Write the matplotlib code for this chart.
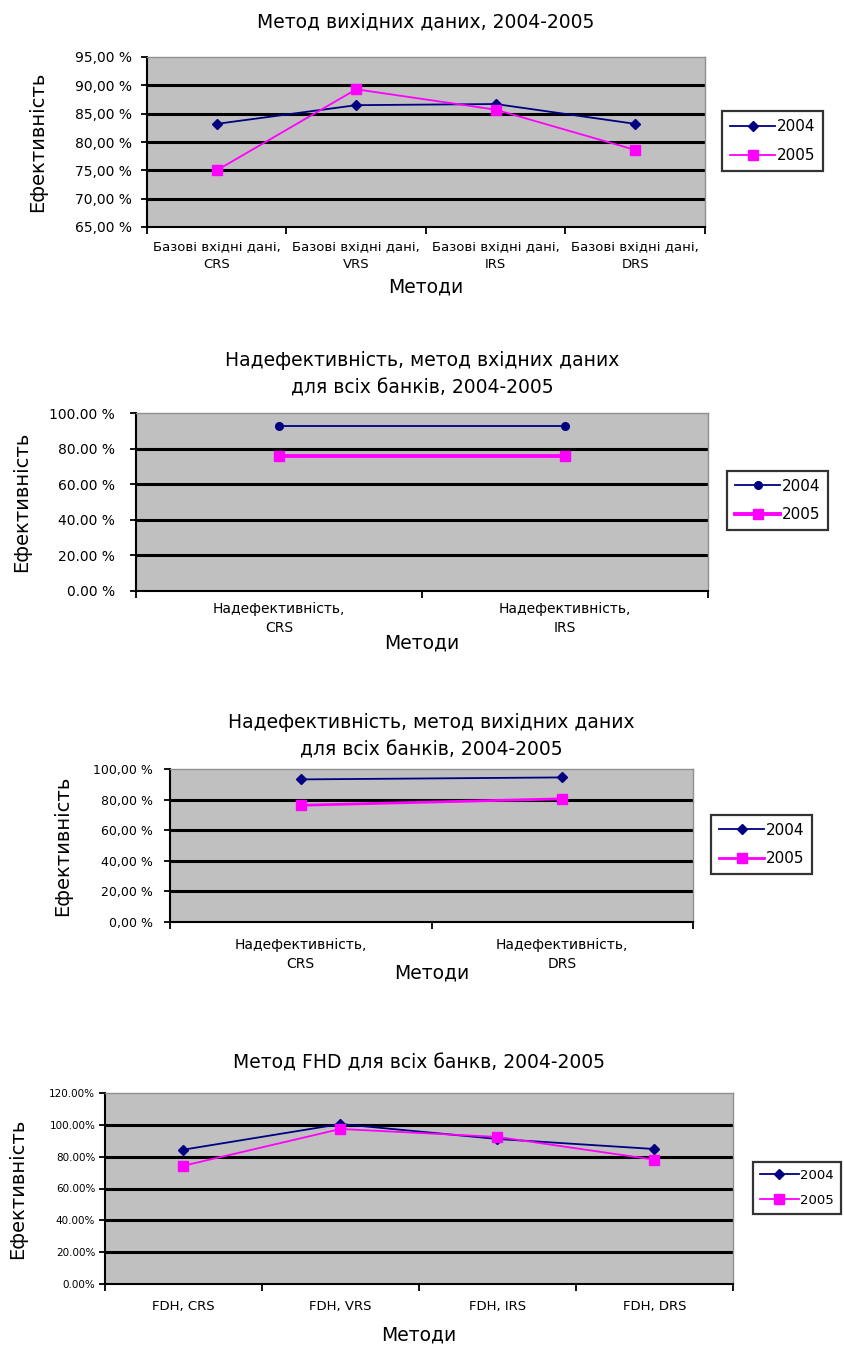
import matplotlib
matplotlib.use("Agg")
import matplotlib.pyplot as plt
from matplotlib.ticker import FuncFormatter

plt.rcParams['font.family'] = ['DejaVu Sans']

# ---- data ----
cats1 = ["Базові вхідні дані,\nCRS", "Базові вхідні дані,\nVRS", "Базові вхідні дані,\nIRS", "Базові вхідні дані,\nDRS"]
c1_2004 = [83.2, 86.5, 86.7, 83.2]
c1_2005 = [75.0, 89.3, 85.7, 78.6]

cats2 = ["Надефективність,\nCRS", "Надефективність,\nIRS"]
c2_2004 = [92.8, 92.8]
c2_2005 = [75.6, 75.6]

cats3 = ["Надефективність,\nCRS", "Надефективність,\nDRS"]
c3_2004 = [93.2, 94.5]
c3_2005 = [76.3, 80.5]

cats4 = ["FDH, CRS", "FDH, VRS", "FDH, IRS", "FDH, DRS"]
c4_2004 = [84.4, 100.5, 91.1, 84.8]
c4_2005 = [74.3, 97.4, 92.4, 78.1]

series_names = ["2004", "2005"]

W, H = 845, 1348
fig = plt.figure(figsize=(W / 100, H / 100), dpi=100)

def fx(x):
    return x / W

def fy(y):
    return 1 - y / H

def make_chart(box, cats, s04, s05, ylim, yticks, fmt, title_lines, title_y,
               xlab_y, meth_y, leg_box, ylab_x, ytick_fs=10, xtick_fs=9.5,
               title_fs=13.5, leg_fs=11, lw05=1.3, marker04='D', ypad=3):
    x0, y0, x1, y1 = box
    ax = fig.add_axes([fx(x0), fy(y1), fx(x1 - x0), (y1 - y0) / H])
    ax.set_facecolor('#C0C0C0')
    n = len(cats)
    xs = list(range(n))
    ax.set_xlim(-0.5, n - 0.5)
    ax.set_ylim(*ylim)
    ax.set_yticks(yticks)
    ax.yaxis.set_major_formatter(FuncFormatter(fmt))
    for t in yticks[1:-1]:
        ax.axhline(t, color='black', lw=2.2, zorder=1)
    l1, = ax.plot(xs, s04, color='#000080', lw=1.3, marker=marker04, ms=5.5,
                  markerfacecolor='#000080', zorder=3)
    l2, = ax.plot(xs, s05, color='#FF00FF', lw=lw05, marker='s', ms=7,
                  markerfacecolor='#FF00FF', zorder=3)
    ax.set_xticks(xs)
    ax.set_xticklabels([])
    ax.set_xticks([i + 0.5 for i in range(-1, n)], minor=True)
    ax.tick_params(axis='x', which='major', length=0)
    ax.tick_params(axis='x', which='minor', length=5, width=1.3, color='black', direction='out')
    ax.tick_params(axis='y', length=4, width=1.3, color='black', direction='out',
                   labelsize=ytick_fs, pad=ypad)
    for s in ['top', 'right']:
        ax.spines[s].set_color('#909090')
        ax.spines[s].set_linewidth(1.0)
    for s in ['left', 'bottom']:
        ax.spines[s].set_color('black')
        ax.spines[s].set_linewidth(1.5)
    # x category labels
    for i, c in enumerate(cats):
        xpix = x0 + (i + 0.5) * (x1 - x0) / n
        fig.text(fx(xpix), fy(xlab_y), c, ha='center', va='top', fontsize=xtick_fs,
                 linespacing=1.45)
    # titles
    for t, ty in zip(title_lines, title_y):
        fig.text(fx((x0 + x1) / 2), fy(ty), t, ha='center', va='center', fontsize=title_fs)
    fig.text(fx((x0 + x1) / 2), fy(meth_y), "Методи", ha='center', va='center', fontsize=13.5)
    fig.text(fx(ylab_x), fy((y0 + y1) / 2), "Ефективність", rotation=90, ha='center',
             va='center', fontsize=14)
    lx0, ly0, lx1, ly1 = leg_box
    leg = fig.legend([l1, l2], series_names, loc='center left',
                     bbox_to_anchor=(fx(lx0), fy((ly0 + ly1) / 2)),
                     borderaxespad=0,
                     frameon=True, fancybox=False, fontsize=leg_fs, handlelength=3.0,
                     handletextpad=0.1, borderpad=0.5, labelspacing=0.9)
    leg.get_frame().set_edgecolor('black')
    leg.get_frame().set_linewidth(1.6)
    return ax

fmt_comma = lambda v, p: ("%.2f" % v).replace('.', ',') + " %"
fmt_dot = lambda v, p: ("%.2f" % v) + " %"
fmt_dot2 = lambda v, p: ("%.2f" % v) + "%"

make_chart((147, 57, 705, 227), cats1, c1_2004, c1_2005, (65, 95),
           [65, 70, 75, 80, 85, 90, 95], fmt_comma,
           ["Метод вихідних даних, 2004-2005"], [22], 240, 287,
           (722, 111, 824, 171), 38, ypad=7)

make_chart((136, 413, 708, 591), cats2, c2_2004, c2_2005, (0, 100),
           [0, 20, 40, 60, 80, 100], fmt_dot,
           ["Надефективність, метод вхідних даних", "для всіх банків, 2004-2005"],
           [361, 388], 602, 643, (727, 474, 837, 527), 22, ytick_fs=10,
           xtick_fs=10, leg_fs=11, lw05=2.8, marker04='o', ypad=11)

make_chart((170, 769, 693, 922), cats3, c3_2004, c3_2005, (0, 100),
           [0, 20, 40, 60, 80, 100], fmt_comma,
           ["Надефективність, метод вихідних даних", "для всіх банків, 2004-2005"],
           [723, 750], 938, 973, (711, 815, 808, 874), 63, ytick_fs=9,
           xtick_fs=10, lw05=2.0, ypad=8)

make_chart((105, 1093, 733, 1284), cats4, c4_2004, c4_2005, (0, 120),
           [0, 20, 40, 60, 80, 100, 120], fmt_dot2,
           ["Метод FHD для всіх банкв, 2004-2005"], [1063], 1300, 1335,
           (753, 1164, 860, 1212), 18, ytick_fs=7.5, xtick_fs=9.5, leg_fs=9.5)

fig.savefig("out.png", dpi=100, facecolor='white')
